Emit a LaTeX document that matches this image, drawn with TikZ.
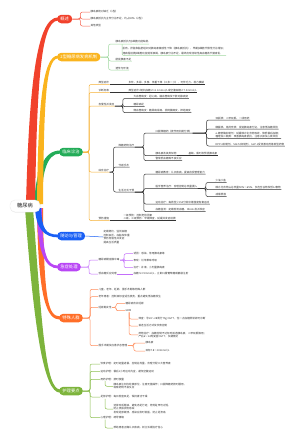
\documentclass[tikz,border=0pt]{standalone}
\usepackage{fontspec}
\setmainfont{Noto Sans CJK SC}
\usetikzlibrary{calc, shadows}
\definecolor{cRed}{RGB}{241,66,44}
\definecolor{cRedL}{RGB}{245,100,80}
\definecolor{cYel}{RGB}{250,180,30}
\definecolor{cYelL}{RGB}{245,175,50}
\definecolor{cGrn}{RGB}{35,172,88}
\definecolor{cGrnL}{RGB}{160,215,160}
\definecolor{cBlu}{RGB}{25,95,245}
\definecolor{cPur}{RGB}{185,70,245}
\definecolor{cPurL}{RGB}{195,110,250}
\definecolor{cOrg}{RGB}{255,110,40}
\definecolor{cOrgL}{RGB}{255,140,90}
\definecolor{cOlv}{RGB}{125,180,60}
\definecolor{cOlvL}{RGB}{140,190,80}

\begin{document}
\begin{tikzpicture}[x=1pt, y=-1pt,
  root/.style={draw=black!8, fill=white, rounded corners=5pt, minimum width=30pt,
    minimum height=12pt, font=\fontsize{5.2}{6}\selectfont, text=black!85,
    drop shadow={opacity=0.18, shadow xshift=0.4pt, shadow yshift=-0.6pt}},
  topic/.style={fill=#1, rounded corners=4pt, text=white, font=\fontsize{4.3}{5}\selectfont,
    inner xsep=3.2pt, inner ysep=0pt, minimum height=8.5pt, anchor=west},
  leaf/.style={font=\fontsize{2.6}{3.4}\selectfont, text=black!80, inner xsep=0.4pt,
    inner ysep=0.5pt, anchor=west, align=left},
  uleaf/.style={leaf, anchor=south west},
  twig/.style={line width=0.5pt, rounded corners=2pt},
]
\useasboundingbox (0,0) rectangle (300,440);

% main topics
\node[topic=cRed] (n1) at (57,19) {概述};
\node[topic=cYel] (n2) at (57,57) {2型糖尿病发病机制};
\node[topic=cGrn] (n3) at (59,152) {临床诊治};
\node[topic=cBlu] (n4) at (57,236) {随访与管理};
\node[topic=cPur] (n5) at (57,267) {急症处理};
\node[topic=cOrg] (n6) at (59,318) {特殊人群};
\node[topic=cOlv] (n7) at (59,391) {护理要点};

% thick limbs from the centre
\fill[cOlv] (25,208) .. controls (34,330) and (44,393) .. ($(n7.west)+(1,1.6)$)
  -- ($(n7.west)+(1,-1.6)$) .. controls (46,389.4) and (42,330) .. (33,208) -- cycle;
\fill[cOrg] (37,208) .. controls (38,300) and (47,319.6) .. ($(n6.west)+(1,1.6)$)
  -- ($(n6.west)+(1,-1.6)$) .. controls (48,316.4) and (44,300) .. (43,208) -- cycle;
\fill[cPur] (37,208) .. controls (37,255) and (46,268.4) .. ($(n5.west)+(1,1.4)$)
  -- ($(n5.west)+(1,-1.4)$) .. controls (47,265.6) and (42,255) .. (42,208) -- cycle;
\fill[cBlu] (35,208) .. controls (36,228) and (44,237.4) .. ($(n4.west)+(1,1.4)$)
  -- ($(n4.west)+(1,-1.4)$) .. controls (45,234.6) and (42,228) .. (41,208) -- cycle;
\fill[cGrn] (34,204) .. controls (36,170) and (44,150.5) .. ($(n3.west)+(1,-1.5)$)
  -- ($(n3.west)+(1,1.5)$) .. controls (46,153.5) and (42,175) .. (41,204) -- cycle;
\fill[cYel] (37,204) .. controls (38,110) and (42,55.6) .. ($(n2.west)+(1,-1.4)$)
  -- ($(n2.west)+(1,1.4)$) .. controls (45,58.4) and (44,110) .. (43,204) -- cycle;
\fill[cRed] (26,204) .. controls (29,90) and (36,17.4) .. ($(n1.west)+(1,-1.6)$)
  -- ($(n1.west)+(1,1.6)$) .. controls (40,20.6) and (37,90) .. (35,204) -- cycle;

\node[root] (root) at (25,206) {糖尿病};

% 概述
\node[leaf] (r1) at (90,12) {胰岛素绝对缺乏（1型）};
\node[leaf] (r2) at (90,19) {胰岛素抵抗为主伴分泌不足，约占90\%（2型）};
\node[leaf] (r3) at (90,26) {其他类型};
\foreach \c in {r1,r2,r3} \draw[twig,cRedL] (n1.east) -- ++(8,0) |- (\c.west);

% 发病机制
\node[uleaf] (y1) at (115,44) {胰岛素抵抗与β细胞功能缺陷};
\node[uleaf, font=\fontsize{2.6}{4.6}\selectfont] (y1a) at (122,55.5)
  {肌肉、肝脏和脂肪组织对胰岛素敏感性下降（胰岛素抵抗），早期β细胞代偿性分泌增加；\\
   随病程进展β细胞功能逐渐衰竭，胰岛素分泌不足，最终出现持续性高血糖及代谢紊乱};
\node[uleaf] (y2) at (115,61) {肠促胰素不足};
\node[uleaf] (y3) at (115,70) {遗传与环境};
\foreach \c in {y1,y2,y3} \draw[twig,cGrnL] (n2.east) -- ++(8,0) |- (\c.south west) -- (\c.south east);
\draw[twig,cGrnL] ($(y1.south west)+(7,0)$) |- (y1a.south west) -- (y1a.south east);

% 临床诊治
\node[uleaf] (c1) at (98,84.5) {典型症状};
\node[uleaf] (c1a) at (128,84.5) {多饮、多尿、多食、体重下降（三多一少），可伴乏力、视力模糊};
\node[uleaf] (c2) at (98,92.5) {诊断标准};
\node[uleaf] (c2a) at (128,92.5) {典型症状+随机血糖≥11.1mmol/L或空腹血糖≥7.0mmol/L};
\node[uleaf] (c3) at (98,106) {急慢性并发症};
\node[uleaf] (c3a) at (133,98.5) {大血管病变：冠心病、脑血管病及下肢动脉病变};
\node[uleaf] (c3b) at (133,106.5) {糖尿病足};
\node[uleaf] (c3c) at (133,112.5) {微血管病变：糖尿病肾病、视网膜病变、神经病变};
\node[uleaf] (c4) at (98,172) {综合治疗};
\node[uleaf] (d1) at (118,147) {降糖药物治疗};
\node[uleaf] (e1) at (155,133) {口服降糖药（按作用机制分类）};
\node[uleaf] (f1) at (215,120) {双胍类：二甲双胍，一线用药};
\node[uleaf] (f2) at (215,129) {磺脲类、格列奈类：促进胰岛素分泌，注意低血糖风险};
\node[uleaf] (f3) at (215,138.5) {α-糖苷酶抑制剂：延缓碳水化合物吸收，降低餐后血糖；\\
  噻唑烷二酮类：改善胰岛素抵抗，注意水肿及心衰风险};
\node[uleaf] (f4) at (215,146) {DPP-4抑制剂、SGLT2抑制剂、GLP-1受体激动剂等新型药物};
\node[uleaf] (e2) at (155,155.5) {胰岛素及其类似物};
\node[uleaf] (e2a) at (188,155.5) {基础、餐时及预混胰岛素};
\node[uleaf] (e3) at (155,160.5) {警惕低血糖等不良反应};
\node[uleaf] (d2) at (118,167) {代谢手术};
\node[uleaf] (d3) at (118,192) {生活方式干预};
\node[uleaf] (e4) at (155,174) {糖尿病教育：认识疾病，提高自我管理能力};
\node[uleaf] (e5) at (155,188.5) {医学营养治疗：合理控制总热量摄入};
\node[uleaf] (f5) at (215,182.5) {少油少盐};
\node[uleaf] (f6) at (215,189.5) {碳水化合物占总热量50\%～65\%，多选全谷物及低GI食物};
\node[uleaf] (f7) at (215,196.5) {戒烟限酒};
\node[uleaf] (e6) at (155,204) {运动治疗：每周至少150分钟中等强度有氧运动};
\node[uleaf] (e7) at (155,211.5) {血糖监测：定期检测血糖、HbA1c及并发症};
\node[uleaf] (c5) at (98,220.5) {预防措施};
\node[uleaf] (c5a) at (123,220.5) {一级预防：控制危险因素\\二级、三级预防：早期筛查，延缓并发症进展};
\foreach \c in {c1,c2,c3,c4,c5}
  \draw[twig,cYelL] (n3.east) -- ++(6,0) |- (\c.south west) -- (\c.south east);
\foreach \p/\c in {c1/c1a, c2/c2a, e2/e2a, c5/c5a}
  \draw[twig,black!80] (\p.south east) -- (\c.south west) -- (\c.south east);
\foreach \c in {c3a,c3b,c3c}
  \draw[twig,black!80] (c3.south east) -- ++(8,0) |- (\c.south west) -- (\c.south east);
\foreach \c in {d1,d2,d3}
  \draw[twig,black!80] (c4.south east) -- ++(4,0) |- (\c.south west) -- (\c.south east);
\foreach \c in {e1,e2,e3}
  \draw[twig,black!80] (d1.south east) -- ++(9,0) |- (\c.south west) -- (\c.south east);
\foreach \c in {f1,f2,f3,f4}
  \draw[twig,black!80] (e1.south east) -- ++(14,0) |- (\c.south west) -- (\c.south east);
\foreach \c in {e4,e5,e6,e7}
  \draw[twig,black!80] (d3.south east) -- ++(9,0) |- (\c.south west) -- (\c.south east);
\foreach \c in {f5,f6,f7}
  \draw[twig,black!80] (e5.south east) -- ++(8,0) |- (\c.south west) -- (\c.south east);

% 随访与管理
\node[leaf] (b1) at (103,237) {定期随访，监测血糖\\控制血压、血脂及体重\\预防急慢性并发症\\提高生活质量};
\draw[twig,cBlu] (n4.east) -- (b1.west);

% 急症处理
\node[leaf] (p1) at (98,260) {糖尿病酮症酸中毒};
\node[leaf] (p2) at (98,274) {低血糖反应处理};
\node[leaf] (pa) at (133,253.7) {诱因：感染、停用胰岛素等};
\node[leaf] (pb) at (133,260.7) {表现：烂苹果味呼吸};
\node[leaf] (pc) at (133,267.7) {治疗：补液、小剂量胰岛素};
\node[leaf] (pd) at (133,274) {血糖≤3.9mmol/L，立即口服葡萄糖或静脉注射};
\foreach \c in {p1,p2} \draw[twig,cPurL] (n5.east) -- ++(8,0) |- (\c.west);
\foreach \c in {pa,pb,pc} \draw[twig,cPurL] (p1.east) -- ++(4,0) |- (\c.west);
\draw[twig,cPurL] (p2.east) -- (pd.west);

% 特殊人群
\node[leaf] (o1) at (98,289.3) {儿童、老年、妊娠、围手术期等特殊人群};
\node[leaf] (o2) at (98,296.7) {老年患者：控制目标宜适当放宽，重点避免低血糖发生};
\node[leaf] (o3) at (98,307.3) {妊娠期女性};
\node[leaf] (oa) at (125,303.3) {糖尿病合并妊娠};
\node[leaf] (ob) at (125,310.7) {GDM};
\node[leaf] (oc) at (138,319) {筛查：孕24～28周行75g OGTT，任一点血糖异常即可诊断};
\node[leaf] (od) at (138,326) {首选生活方式及饮食控制};
\node[leaf] (oe) at (138,334.8) {药物治疗：血糖控制不达标时首选胰岛素，二甲双胍慎用；\\产后6～12周复查OGTT，长期随访};
\node[leaf] (o4) at (98,345.7) {围手术期及应激状态管理};
\node[leaf] (of) at (145,343) {胰岛素};
\node[leaf] (og) at (145,351) {目标7.8～10mmol/L};
\foreach \c in {o1,o2,o3,o4} \draw[twig,cOrgL] (n6.east) -- ++(7,0) |- (\c.west);
\foreach \c in {oa,ob} \draw[twig,cOrgL] (o3.east) -- ++(4,0) |- (\c.west);
\foreach \c in {oc,od,oe} \draw[twig,cOrgL] ($(ob.south west)+(4,0)$) |- (\c.west);
\foreach \c in {of,og} \draw[twig,cOrgL] (o4.east) -- ++(6,0) |- (\c.west);

% 护理要点
\node[leaf] (g1) at (100,364) {饮食护理：定时定量进餐，控制总热量，合理分配三大营养素};
\node[leaf] (g2) at (100,371.3) {运动护理：餐后1小时运动为宜，避免空腹运动};
\node[leaf] (g3) at (100,379.3) {用药护理：按时按量};
\node[leaf] (ga) at (113,386.3) {胰岛素注射应轮换部位，注意无菌操作；口服降糖药按时服用，\\观察药物不良反应};
\node[leaf] (g4) at (100,397) {足部护理：每日检查双足，保持清洁干燥};
\node[leaf] (gb) at (113,409) {选择合适鞋袜，避免赤足行走；修剪趾甲勿过短，\\防止皮肤损伤感染\\发现足部破溃、感染应及时就医，防止足溃疡};
\node[leaf] (g5) at (100,417.7) {心理护理：疏导情绪};
\node[leaf] (gc) at (113,428) {帮助患者正确认识疾病，树立长期治疗信心};
\foreach \c in {g1,g2,g3,g4,g5} \draw[twig,cOlvL] (n7.east) -- ++(7,0) |- (\c.west);
\foreach \p/\c in {g3/ga, g4/gb, g5/gc} \draw[twig,cOlvL] ($(\p.south west)+(5,0)$) |- (\c.west);
\end{tikzpicture}
\end{document}
